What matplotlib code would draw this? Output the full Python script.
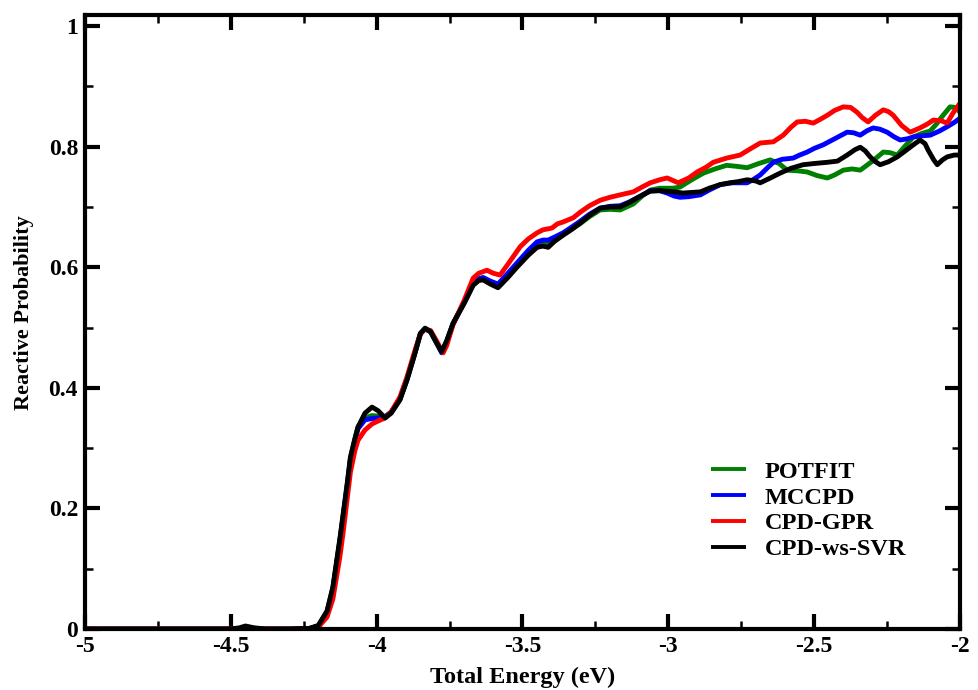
import matplotlib
matplotlib.use("Agg")
import matplotlib.pyplot as plt
from matplotlib.ticker import MultipleLocator, FuncFormatter

plt.rcParams['font.family'] = ['Liberation Serif', 'DejaVu Serif']
plt.rcParams['font.weight'] = 'bold'
plt.rcParams['axes.unicode_minus'] = False

# ---------------- data ----------------
black_E = [-5.0, -4.6, -4.5, -4.47, -4.45, -4.42, -4.38, -4.3, -4.23, -4.2, -4.17, -4.15, -4.126, -4.115,
           -4.1, -4.09, -4.075, -4.064, -4.04, -4.016, -3.995, -3.971, -3.95, -3.92, -3.896, -3.87, -3.85,
           -3.834, -3.815, -3.795, -3.777, -3.76, -3.738, -3.7, -3.669, -3.65, -3.635, -3.61, -3.584, -3.55,
           -3.519, -3.48, -3.45, -3.43, -3.412, -3.39, -3.361, -3.33, -3.303, -3.27, -3.234, -3.2, -3.165,
           -3.135, -3.107, -3.08, -3.062, -3.03, -3.004, -2.98, -2.95, -2.92, -2.89, -2.86, -2.822, -2.79,
           -2.76, -2.73, -2.70, -2.685, -2.65, -2.617, -2.58, -2.538, -2.5, -2.455, -2.42, -2.387, -2.36,
           -2.342, -2.325, -2.308, -2.29, -2.274, -2.245, -2.215, -2.19, -2.16, -2.137, -2.12, -2.109, -2.09,
           -2.078, -2.06, -2.044, -2.02, -2.0]
black_P = [0.0, 0.0, 0.0, 0.002, 0.005, 0.002, 0.0, 0.0, 0.001, 0.006, 0.03, 0.07, 0.15, 0.19,
           0.245, 0.285, 0.315, 0.335, 0.358, 0.368, 0.362, 0.35, 0.358, 0.38, 0.413, 0.455, 0.49,
           0.499, 0.493, 0.475, 0.46, 0.478, 0.507, 0.54, 0.57, 0.578, 0.579, 0.572, 0.566, 0.583,
           0.600, 0.62, 0.633, 0.635, 0.633, 0.643, 0.653, 0.663, 0.673, 0.686, 0.698, 0.70, 0.70,
           0.707, 0.715, 0.722, 0.726, 0.727, 0.726, 0.725, 0.723, 0.724, 0.725, 0.731, 0.737, 0.740,
           0.742, 0.745, 0.743, 0.740, 0.748, 0.756, 0.764, 0.770, 0.772, 0.774, 0.776, 0.786, 0.795,
           0.799, 0.793, 0.783, 0.775, 0.770, 0.775, 0.783, 0.792, 0.803, 0.811, 0.805, 0.794, 0.778,
           0.770, 0.778, 0.783, 0.786, 0.786]

red_E = [-5.0, -4.3, -4.23, -4.2, -4.17, -4.15, -4.126, -4.115, -4.1, -4.09, -4.075, -4.064, -4.04, -4.016,
         -3.995, -3.971, -3.95, -3.92, -3.896, -3.87, -3.85, -3.834, -3.815, -3.795, -3.777, -3.772, -3.76,
         -3.738, -3.7, -3.669, -3.65, -3.622, -3.6, -3.577, -3.55, -3.508, -3.48, -3.45, -3.43, -3.399, -3.38,
         -3.361, -3.326, -3.3, -3.27, -3.234, -3.2, -3.165, -3.12, -3.09, -3.062, -3.03, -3.004, -2.985,
         -2.966, -2.93, -2.901, -2.87, -2.846, -2.8, -2.754, -2.72, -2.685, -2.64, -2.606, -2.58, -2.558,
         -2.53, -2.503, -2.48, -2.455, -2.43, -2.4, -2.375, -2.353, -2.335, -2.315, -2.29, -2.263, -2.245,
         -2.229, -2.2, -2.171, -2.137, -2.11, -2.092, -2.065, -2.044, -2.025, -2.0]
red_P = [0.0, 0.0, 0.0, 0.003, 0.02, 0.05, 0.12, 0.16, 0.22, 0.26, 0.295, 0.313, 0.33, 0.34,
         0.345, 0.35, 0.36, 0.385, 0.418, 0.46, 0.49, 0.497, 0.495, 0.478, 0.462, 0.458, 0.47,
         0.505, 0.545, 0.582, 0.59, 0.595, 0.59, 0.587, 0.605, 0.634, 0.647, 0.657, 0.662, 0.665, 0.672,
         0.675, 0.682, 0.692, 0.702, 0.711, 0.716, 0.720, 0.725, 0.733, 0.740, 0.745, 0.748, 0.744,
         0.740, 0.748, 0.758, 0.766, 0.774, 0.781, 0.786, 0.796, 0.806, 0.808, 0.819, 0.832, 0.841,
         0.842, 0.839, 0.845, 0.852, 0.860, 0.866, 0.865, 0.857, 0.848, 0.841, 0.852, 0.861, 0.858,
         0.852, 0.835, 0.824, 0.831, 0.838, 0.844, 0.843, 0.839, 0.855, 0.872]

blue_E = [-5.0, -4.3, -4.23, -4.2, -4.17, -4.15, -4.126, -4.115, -4.1, -4.09, -4.075, -4.064, -4.04, -4.016,
          -3.995, -3.971, -3.95, -3.92, -3.896, -3.87, -3.85, -3.834, -3.815, -3.795, -3.777, -3.76, -3.738,
          -3.7, -3.669, -3.65, -3.635, -3.61, -3.584, -3.55, -3.519, -3.48, -3.45, -3.43, -3.412, -3.39,
          -3.361, -3.33, -3.303, -3.27, -3.234, -3.2, -3.165, -3.135, -3.107, -3.08, -3.062, -3.03, -3.004,
          -2.98, -2.96, -2.93, -2.89, -2.86, -2.822, -2.78, -2.73, -2.71, -2.685, -2.66, -2.64, -2.61, -2.572,
          -2.55, -2.524, -2.5, -2.469, -2.43, -2.387, -2.365, -2.342, -2.32, -2.298, -2.275, -2.25, -2.225,
          -2.205, -2.18, -2.16, -2.13, -2.102, -2.07, -2.044, -2.02, -2.0]
blue_P = [0.0, 0.0, 0.001, 0.005, 0.028, 0.066, 0.145, 0.185, 0.24, 0.28, 0.31, 0.332, 0.347, 0.349,
          0.35, 0.352, 0.36, 0.382, 0.414, 0.456, 0.49, 0.498, 0.493, 0.475, 0.458, 0.476, 0.506,
          0.542, 0.575, 0.581, 0.583, 0.577, 0.572, 0.59, 0.607, 0.628, 0.642, 0.645, 0.645, 0.650,
          0.657, 0.667, 0.676, 0.688, 0.698, 0.701, 0.702, 0.708, 0.715, 0.722, 0.727, 0.727, 0.723,
          0.718, 0.716, 0.717, 0.720, 0.728, 0.737, 0.740, 0.740, 0.745, 0.753, 0.765, 0.774, 0.779, 0.781,
          0.786, 0.791, 0.797, 0.803, 0.813, 0.824, 0.823, 0.819, 0.826, 0.831, 0.829, 0.824, 0.816,
          0.811, 0.813, 0.816, 0.818, 0.819, 0.826, 0.833, 0.840, 0.847]

green_E = [-5.0, -4.3, -4.23, -4.2, -4.17, -4.15, -4.126, -4.115, -4.1, -4.09, -4.075, -4.064, -4.04, -4.016,
           -3.995, -3.971, -3.95, -3.92, -3.896, -3.87, -3.85, -3.834, -3.815, -3.795, -3.777, -3.76, -3.738,
           -3.7, -3.669, -3.65, -3.635, -3.61, -3.584, -3.55, -3.519, -3.48, -3.45, -3.43, -3.412, -3.39,
           -3.361, -3.33, -3.303, -3.27, -3.234, -3.2, -3.165, -3.12, -3.09, -3.062, -3.03, -3.004, -2.984,
           -2.96, -2.92, -2.88, -2.84, -2.8, -2.76, -2.73, -2.69, -2.651, -2.62, -2.593, -2.56, -2.524, -2.49,
           -2.455, -2.43, -2.4, -2.37, -2.342, -2.3, -2.263, -2.24, -2.215, -2.19, -2.16, -2.13, -2.102,
           -2.08, -2.058, -2.034, -2.015, -2.0]
green_P = [0.0, 0.0, 0.001, 0.005, 0.029, 0.068, 0.148, 0.188, 0.243, 0.283, 0.314, 0.335, 0.35, 0.354,
           0.353, 0.352, 0.36, 0.381, 0.414, 0.456, 0.49, 0.498, 0.493, 0.475, 0.459, 0.477, 0.507,
           0.541, 0.572, 0.579, 0.580, 0.574, 0.568, 0.586, 0.603, 0.624, 0.637, 0.64, 0.639, 0.646,
           0.655, 0.664, 0.672, 0.684, 0.695, 0.696, 0.695, 0.705, 0.718, 0.728, 0.731, 0.731, 0.731,
           0.733, 0.745, 0.756, 0.763, 0.769, 0.767, 0.765, 0.772, 0.778, 0.772, 0.761, 0.760, 0.758, 0.752,
           0.748, 0.753, 0.761, 0.763, 0.761, 0.776, 0.791, 0.790, 0.786, 0.800, 0.816, 0.822, 0.826,
           0.838, 0.852, 0.866, 0.865, 0.857]

series_names = ['POTFIT', 'MCCPD', 'CPD-GPR', 'CPD-ws-SVR']
series_colors = ['#008000', '#0000ff', '#ff0000', '#000000']

x_ticks = [-5, -4.5, -4, -3.5, -3, -2.5, -2]
y_ticks = [0, 0.2, 0.4, 0.6, 0.8, 1]

# ---------------- figure ----------------
fig = plt.figure(figsize=(9.79, 6.90), dpi=100)
ax = fig.add_axes([0.0868, 0.0884, 0.8938, 0.8896])

data = [(green_E, green_P), (blue_E, blue_P), (red_E, red_P), (black_E, black_P)]
for (E, P), name, col in zip(data, series_names, series_colors):
    ax.plot(E, P, color=col, lw=3.5, label=name, solid_joinstyle='round', solid_capstyle='butt')

ax.set_xlim(-5, -2)
ax.set_ylim(0, 1.018)
ax.set_xticks(x_ticks)
ax.set_yticks(y_ticks)
ax.xaxis.set_minor_locator(MultipleLocator(0.25))
ax.yaxis.set_minor_locator(MultipleLocator(0.1))
fmt = FuncFormatter(lambda v, p: '%g' % v)
ax.xaxis.set_major_formatter(fmt)
ax.yaxis.set_major_formatter(fmt)

for s in ax.spines.values():
    s.set_linewidth(3.0)
ax.tick_params(which='major', direction='in', length=11, width=3, top=True, right=True,
               labelsize=17, pad=5)
ax.tick_params(which='minor', direction='in', length=5.5, width=1.8, top=True, right=True)
for lab in ax.get_xticklabels() + ax.get_yticklabels():
    lab.set_fontweight('bold')

ax.set_xlabel('Total Energy (eV)', fontsize=17.5, fontweight='bold', labelpad=7)
ax.set_ylabel('Reactive Probability', fontsize=16, fontweight='bold')
ax.yaxis.set_label_coords(-0.058, 0.516)

leg = ax.legend(loc='upper left', bbox_to_anchor=(0.69, 0.31), frameon=False,
                prop={'weight': 'bold', 'size': 17.5}, handlelength=1.45, handletextpad=0.78,
                labelspacing=0.16)
for h in leg.get_lines():
    h.set_linewidth(2.8)

fig.savefig('out.png', dpi=100)
